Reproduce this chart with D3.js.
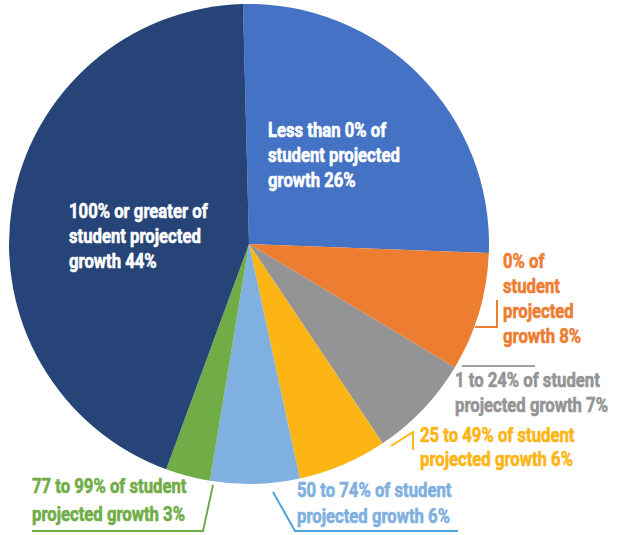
<!DOCTYPE html>
<html>
<head>
<meta charset="utf-8">
<script src="https://cdn.jsdelivr.net/npm/d3@7"></script>
<style>
  html, body { margin: 0; padding: 0; background: #ffffff; }
  svg text { font-family: Roboto, "DejaVu Sans Condensed", sans-serif; font-weight: bold; font-size: 20px; }
</style>
</head>
<body>
<svg id="chart" width="621" height="535"></svg>
<script>
// Share of students by projected-growth band (percent)
const categories = [
  "Less than 0% of student projected growth",
  "0% of student projected growth",
  "1 to 24% of student projected growth",
  "25 to 49% of student projected growth",
  "50 to 74% of student projected growth",
  "77 to 99% of student projected growth",
  "100% or greater of student projected growth"
];
const values = [26, 8, 7, 6, 6, 3, 44];
const sliceColors = ["#4472C4", "#ED7D31", "#949494", "#FDB515", "#7FB0DF", "#70AD47", "#264478"];
const labelColors = ["#ffffff", "#ED7D31", "#949494", "#FDB515", "#7FB0DF", "#70AD47", "#ffffff"];
const leaderColors = [null, "#ED7D31", "#A0A0A0", "#FDB515", "#4DA3D8", "#70AD47", null];
// Label text, one entry per line
const labelLines = [
  ["Less than 0% of", "student projected", "growth 26%"],
  ["0% of", "student", "projected", "growth 8%"],
  ["1 to 24% of student", "projected growth 7%"],
  ["25 to 49% of student", "projected growth 6%"],
  ["50 to 74% of student", "projected growth 6%"],
  ["77 to 99% of student", "projected growth 3%"],
  ["100% or greater of", "student projected", "growth 44%"]
];

const svg = d3.select("#chart");
const cx = 249, cy = 244, radius = 240;
const start = -0.025;

const pie = d3.pie().sort(null).value(d => d)
  .startAngle(start).endAngle(start + 2 * Math.PI);
const arc = d3.arc().innerRadius(0).outerRadius(radius);
const arcs = pie(values);

const g = svg.append("g").attr("transform", `translate(${cx},${cy})`);
g.selectAll("path.slice")
  .data(arcs)
  .join("path")
  .attr("class", "slice")
  .attr("d", arc)
  .attr("fill", (d, i) => sliceColors[i]);

// Condensed lettering: squeeze the bold face horizontally so that
// "student projected" runs about 132px wide.
const probe = svg.append("text").text("student projected");
const natural = probe.node().getComputedTextLength();
probe.remove();
const squeeze = Math.min(1, 132 / natural);

// Label anchors (text start, first baseline) and line spacing
const labelPos = [
  { x: 268, y: 137, dy: 25 },
  { x: 503, y: 268, dy: 25 },
  { x: 455, y: 387, dy: 25 },
  { x: 420, y: 442, dy: 24 },
  { x: 297, y: 497, dy: 26 },
  { x: 32,  y: 493, dy: 28 },
  { x: 69,  y: 218, dy: 25 }
];

labelLines.forEach((lines, i) => {
  const p = labelPos[i];
  const t = svg.append("text")
    .attr("transform", `translate(${p.x},${p.y}) scale(${squeeze},1)`)
    .attr("fill", labelColors[i])
    .attr("stroke", labelColors[i])
    .attr("stroke-width", 0.6);
  lines.forEach((ln, k) => {
    t.append("tspan").attr("x", 0).attr("y", k * p.dy).text(ln);
  });
});

// Leader lines beside the outside labels
const leaders = [
  null,
  [[475, 327], [497, 327], [497, 300]],
  [[462, 366], [535, 366]],
  [[391, 446], [413, 432], [413, 450]],
  [[273, 492], [295, 531], [458, 531]],
  [[32, 531], [203, 531], [213, 485]],
  null
];
const line = d3.line();
leaders.forEach((pts, i) => {
  if (!pts) return;
  svg.append("path")
    .attr("d", line(pts))
    .attr("fill", "none")
    .attr("stroke", leaderColors[i])
    .attr("stroke-width", 2);
});
</script>
</body>
</html>
